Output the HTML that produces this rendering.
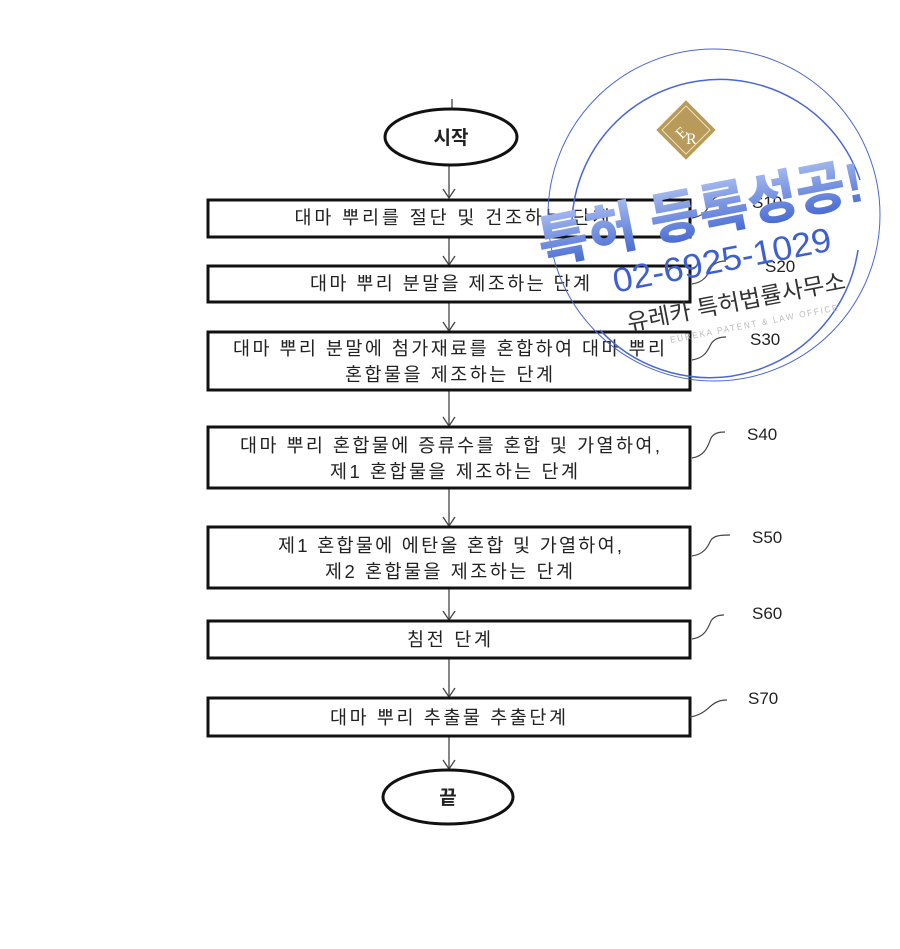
<!DOCTYPE html>
<html><head><meta charset="utf-8">
<style>
html,body{margin:0;padding:0;background:#fff;}
svg{display:block;}
.t{font-family:"Liberation Sans","Noto Sans CJK KR","NanumGothic",sans-serif;font-size:18.5px;fill:#222;}
.s{font-family:"Liberation Sans",sans-serif;font-size:17px;fill:#222;}
</style></head>
<body>
<svg width="900" height="949" viewBox="0 0 900 949" xmlns="http://www.w3.org/2000/svg">
<defs>
<linearGradient id="g" x1="0" y1="0" x2="0" y2="1">
<stop offset="0" stop-color="#a9bdf0"/><stop offset="1" stop-color="#3f63d0"/>
</linearGradient>
</defs>
<g stroke="#444" stroke-width="1.3" fill="none">
<line x1="452" y1="99" x2="452" y2="108"/>
<line x1="449" y1="165" x2="449" y2="198"/>
<line x1="449" y1="237" x2="449" y2="265"/>
<line x1="449" y1="302" x2="449" y2="331"/>
<line x1="449" y1="390" x2="449" y2="426"/>
<line x1="449" y1="488" x2="449" y2="526"/>
<line x1="449" y1="588" x2="449" y2="620"/>
<line x1="449" y1="658" x2="449" y2="697"/>
<line x1="449" y1="736" x2="449" y2="769"/>
<path d="M443,189 L449,198 L455,189"/>
<path d="M443,256 L449,265 L455,256"/>
<path d="M443,322 L449,331 L455,322"/>
<path d="M443,417 L449,426 L455,417"/>
<path d="M443,517 L449,526 L455,517"/>
<path d="M443,611 L449,620 L455,611"/>
<path d="M443,688 L449,697 L455,688"/>
<path d="M443,760 L449,769 L455,760"/>
</g>
<g stroke="#111" stroke-width="3" fill="#fff">
<ellipse cx="451" cy="137" rx="66" ry="28"/>
<rect x="208" y="200" width="482" height="37"/>
<rect x="208" y="266" width="482" height="36"/>
<rect x="208" y="332" width="482" height="58"/>
<rect x="208" y="427" width="482" height="61"/>
<rect x="208" y="527" width="482" height="61"/>
<rect x="208" y="621" width="482" height="37"/>
<rect x="208" y="698" width="482" height="38"/>
<ellipse cx="448" cy="797" rx="65" ry="27"/>
</g>
<g class="t" text-anchor="middle">
<text x="451" y="144" font-weight="bold" font-size="19">시작</text>
<text x="448" y="804" font-weight="bold" font-size="19">끝</text>
<text x="452" y="224" textLength="315" lengthAdjust="spacing">대마 뿌리를 절단 및 건조하는 단계</text>
<text x="450" y="290" textLength="280" lengthAdjust="spacing">대마 뿌리 분말을 제조하는 단계</text>
<text x="449" y="355" textLength="432" lengthAdjust="spacing">대마 뿌리 분말에 첨가재료를 혼합하여 대마 뿌리</text>
<text x="449" y="381" textLength="208" lengthAdjust="spacing">혼합물을 제조하는 단계</text>
<text x="450" y="452" textLength="420" lengthAdjust="spacing">대마 뿌리 혼합물에 증류수를 혼합 및 가열하여,</text>
<text x="454" y="478" textLength="248" lengthAdjust="spacing">제1 혼합물을 제조하는 단계</text>
<text x="450" y="552" textLength="344" lengthAdjust="spacing">제1 혼합물에 에탄올 혼합 및 가열하여,</text>
<text x="449" y="578" textLength="248" lengthAdjust="spacing">제2 혼합물을 제조하는 단계</text>
<text x="449" y="646" textLength="84" lengthAdjust="spacing">침전 단계</text>
<text x="448" y="724" textLength="236" lengthAdjust="spacing">대마 뿌리 추출물 추출단계</text>
</g>
<g stroke="#444" stroke-width="1.2" fill="none">
<path d="M692,218 C705,216 708,208 711,202 C714,197 719,195 726,195"/>
<path d="M692,284 C705,282 708,274 711,268 C714,263 719,261 726,261"/>
<path d="M692,360 C705,358 708,350 711,344 C714,339 719,337 726,337"/>
<path d="M692,458 C705,456 708,446 711,438 C714,433 719,432 725,432"/>
<path d="M692,556 C705,554 708,546 711,540 C714,536 719,535 730,535"/>
<path d="M692,639 C705,637 708,628 711,621 C714,616 719,615 724,615"/>
<path d="M690,717 C703,715 708,708 712,705 C716,702 720,700 727,700"/>
</g>
<g class="s">
<text x="752" y="208">S10</text>
<text x="765" y="272">S20</text>
<text x="750" y="345">S30</text>
<text x="747" y="440">S40</text>
<text x="752" y="543">S50</text>
<text x="752" y="619">S60</text>
<text x="748" y="704">S70</text>
</g>
<!-- stamp -->
<g fill="none" stroke="#4a66d6" stroke-width="1">
<circle cx="714" cy="215" r="166"/>
<path d="M572,220 A148,148 0 0 1 860,180" stroke-width="1.5"/>
<path d="M600,330 A150,150 0 0 0 858,250" stroke-width="1.5"/>
</g>
<g transform="translate(686,130) rotate(-45)">
<rect x="-21" y="-21" width="42" height="42" fill="#b89a5a"/>
<rect x="-17" y="-17" width="34" height="34" fill="none" stroke="#efe2c0" stroke-width="1"/>
</g>
<text x="676" y="134" font-family="Liberation Serif,serif" font-size="16" fill="#fff" transform="rotate(-45 686 130)">E</text>
<text x="686" y="144" font-family="Liberation Serif,serif" font-size="16" fill="#fff">R</text>
<g transform="rotate(-11 700 210)">
<text x="700" y="232" text-anchor="middle" font-family="Liberation Sans,'Noto Sans CJK KR',sans-serif" font-weight="900" font-size="56" fill="url(#g)" textLength="330" lengthAdjust="spacingAndGlyphs">특허 등록성공!</text>
<text x="712" y="275" text-anchor="middle" font-family="Liberation Sans,sans-serif" font-size="34" fill="#3d5fcf" textLength="222" lengthAdjust="spacingAndGlyphs">02-6925-1029</text>
<text x="718" y="315" text-anchor="middle" font-family="Liberation Sans,'Noto Sans CJK KR',sans-serif" font-size="23" fill="#333" textLength="222" lengthAdjust="spacingAndGlyphs">유레카 특허법률사무소</text>
<text x="732" y="335" text-anchor="middle" font-family="Liberation Sans,sans-serif" font-size="9" fill="#bbb" letter-spacing="2" textLength="172" lengthAdjust="spacingAndGlyphs">EUREKA PATENT &amp; LAW OFFICE</text>
</g>
</svg>
</body></html>
